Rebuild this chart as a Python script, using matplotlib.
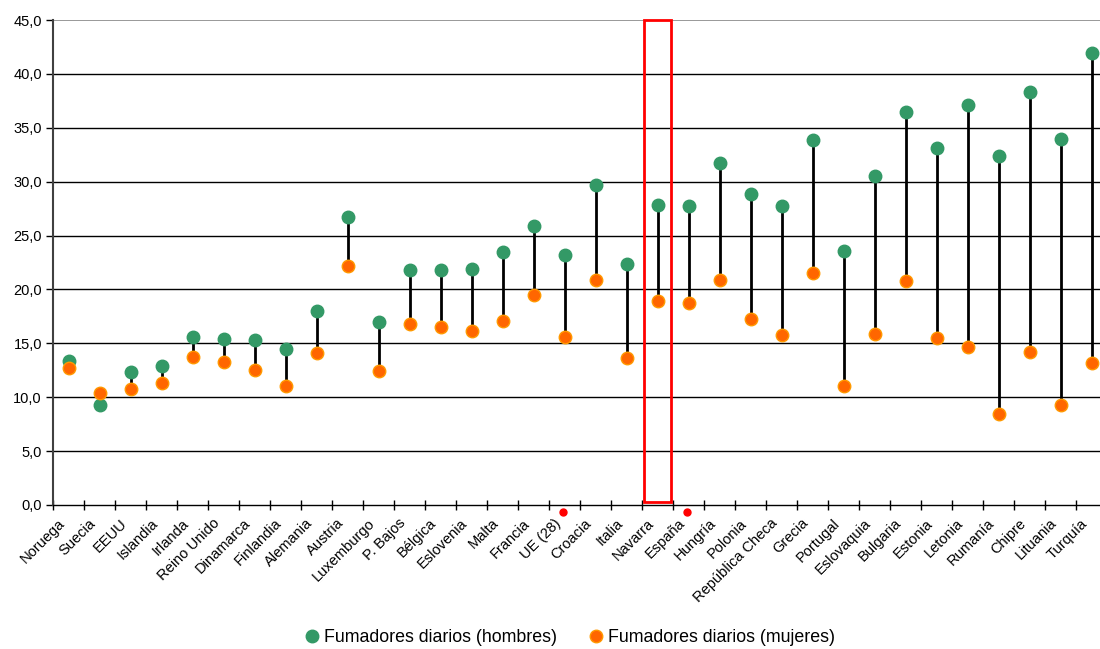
import numpy as np
import matplotlib
matplotlib.use("Agg")
import matplotlib.pyplot as plt
from matplotlib.patches import Rectangle
from matplotlib.lines import Line2D
from matplotlib.ticker import FuncFormatter, MultipleLocator
from matplotlib.transforms import ScaledTranslation

plt.rcParams['font.family'] = ['Liberation Sans', 'DejaVu Sans']

# datos: fumadores diarios (%)
paises = ['Noruega', 'Suecia', 'EEUU', 'Islandia', 'Irlanda', 'Reino Unido',
          'Dinamarca', 'Finlandia', 'Alemania', 'Austria', 'Luxemburgo',
          'P. Bajos', 'Bélgica', 'Eslovenia', 'Malta', 'Francia', 'UE (28)',
          'Croacia', 'Italia', 'Navarra', 'España', 'Hungría', 'Polonia',
          'República Checa', 'Grecia', 'Portugal', 'Eslovaquia', 'Bulgaria',
          'Estonia', 'Letonia', 'Rumanía', 'Chipre', 'Lituania', 'Turquía']
hombres = [13.4, 9.3, 12.3, 12.9, 15.6, 15.4, 15.3, 14.5, 18.0, 26.7, 17.0,
           21.8, 21.8, 21.9, 23.5, 25.9, 23.2, 29.7, 22.4, 27.8, 27.7, 31.7,
           28.9, 27.7, 33.9, 23.6, 30.5, 36.5, 33.1, 37.1, 32.4, 38.3, 34.0,
           41.9]
mujeres = [12.7, 10.4, 10.8, 11.3, 13.7, 13.3, 12.5, 11.0, 14.1, 22.2, 12.4,
           16.8, 16.5, 16.1, 17.1, 19.5, 15.6, 20.9, 13.6, 18.9, 18.7, 20.9,
           17.3, 15.8, 21.5, 11.0, 15.9, 20.8, 15.5, 14.7, 8.4, 14.2, 9.3,
           13.2]
marcados = ['UE (28)', 'España']   # puntos rojos bajo el eje
destacado = 'Navarra'              # recuadro rojo

verde = '#339966'
naranja = '#FF6600'

x = np.arange(len(paises))

fig = plt.figure(figsize=(11, 6.49), dpi=100)
ax = fig.add_axes([53/1100, 1 - 505/649, 1054/1100, 485/649])

# rejilla
for v in np.arange(5, 45, 5):
    ax.axhline(v, color='black', lw=1, zorder=1)
ax.axhline(45, color='#888888', lw=1.2, zorder=1)

# lineas entre hombres y mujeres
ax.vlines(x, mujeres, hombres, color='black', lw=2, zorder=2)
ax.plot(x, hombres, 'o', color=verde, ms=9, mec=verde, zorder=3)
ax.plot(x, mujeres, 'o', color=naranja, ms=9, mec='#FF9900', mew=1, zorder=4)

ax.set_xlim(-0.5, len(paises) - 0.5)
ax.set_ylim(0, 45)
ax.yaxis.set_major_locator(MultipleLocator(5))
ax.yaxis.set_major_formatter(FuncFormatter(lambda v, p: f'{v:.1f}'.replace('.', ',')))

ax.set_xticks(x)
ax.set_xticks(np.arange(-0.5, len(paises)), minor=True)
ax.tick_params(axis='x', which='major', length=0, pad=8)
ax.tick_params(axis='x', which='minor', length=7, direction='inout', width=1)
ax.tick_params(axis='y', length=5, width=1, labelsize=10.5, pad=3)
ax.set_xticklabels(paises, rotation=45, ha='right', va='top',
                   rotation_mode='anchor', fontsize=10.5)
# mover las etiquetas un poco a la izquierda
desplaz = ScaledTranslation(-11/100, 0, fig.dpi_scale_trans)
for lab in ax.get_xticklabels():
    lab.set_transform(lab.get_transform() + desplaz)

for s in ['top', 'right']:
    ax.spines[s].set_visible(False)
ax.spines['left'].set_color('#404040')
ax.spines['left'].set_linewidth(1.5)
ax.spines['bottom'].set_color('black')
ax.spines['bottom'].set_linewidth(1)

# recuadro de Navarra
i = paises.index(destacado)
ax.add_patch(Rectangle((i - 0.45, 0.3), 0.9, 44.7, fill=False,
                       edgecolor='#FF0000', lw=2, zorder=5, clip_on=False))

# puntos rojos
trans = ax.get_xaxis_transform()
for p in marcados:
    j = paises.index(p)
    ax.plot(j - 0.05, -0.015, 'o', color='#FF0000', ms=5, transform=trans,
            clip_on=False)

handles = [Line2D([], [], ls='none', marker='o', color=verde, ms=9),
           Line2D([], [], ls='none', marker='o', color=naranja, mec='#FF9900', ms=9)]
fig.legend(handles, ['Fumadores diarios (hombres)', 'Fumadores diarios (mujeres)'],
           loc='center', bbox_to_anchor=(0.516, 1 - 638/649), ncol=2,
           frameon=False, fontsize=12.8, handlelength=1.35, handletextpad=0.0,
           columnspacing=1.52)

fig.savefig('out.png', dpi=100)
